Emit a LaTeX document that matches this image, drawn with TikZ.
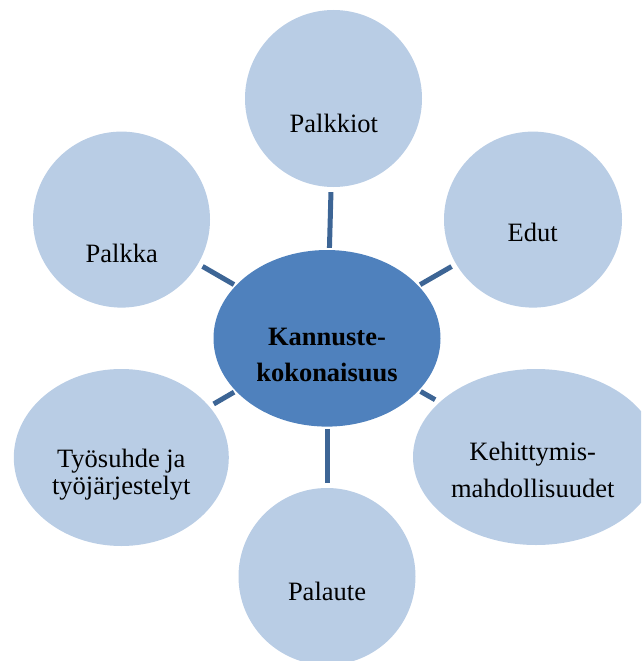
\documentclass[tikz,border=0pt]{standalone}
\usepackage{fontspec}
\setmainfont{Liberation Serif}
\usetikzlibrary{shapes.geometric}

\definecolor{outerfill}{HTML}{B9CDE5}
\definecolor{hubfill}{HTML}{4F81BD}
\definecolor{spoke}{HTML}{3D6595}

\tikzset{
  bubble/.style={ellipse, fill=outerfill, draw=none, inner sep=0pt},
  hub/.style={ellipse, fill=hubfill, draw=none, inner sep=0pt},
  caption/.style={anchor=base, inner sep=0pt, font=\fontsize{26.5}{30}\selectfont},
  spokeline/.style={draw=spoke, line width=5pt, shorten <=2pt, shorten >=5pt},
}

\newcommand{\twoline}[3]{\begin{tabular}[t]{@{}c@{}}#1\\[#3]#2\end{tabular}}

\begin{document}
\begin{tikzpicture}[x=1pt,y=-1pt]
  \clip (0,0) rectangle (641,661);

  % centre of the diagram
  \node[hub, minimum width=227pt, minimum height=176.6pt] (hub) at (327,338.3) {};

  % surrounding topics
  \node[bubble, minimum width=177pt, minimum height=177pt] (palkkiot) at (333.5,98.5) {};
  \node[bubble, minimum width=178pt, minimum height=176pt] (edut) at (533,219.6) {};
  \node[bubble, minimum width=177pt, minimum height=176pt] (palkka) at (121.5,219.6) {};
  \node[bubble, minimum width=215pt, minimum height=177pt] (tyosuhde) at (121.3,457.5) {};
  \node[bubble, minimum width=246pt, minimum height=176pt] (kehitys) at (536,457) {};
  \node[bubble, minimum width=177pt, minimum height=177pt] (palaute) at (327,576.5) {};

  % spokes from the centre
  \draw[spokeline] (hub) -- (palkkiot);
  \draw[spokeline] (hub) -- (edut);
  \draw[spokeline] (hub) -- (palkka);
  \draw[spokeline] (hub) -- (tyosuhde);
  \draw[spokeline] (hub) -- (kehitys);
  \draw[spokeline] (hub) -- (palaute);

  % labels
  \node[caption, font=\fontsize{26.5}{30}\selectfont\bfseries] (hubtext) at (327,345)
    {\twoline{Kannuste-}{kokonaisuus}{6.7pt}};
  \node[caption] (palkkiottext) at (333.8,132.3) {Palkkiot};
  \node[caption] (eduttext) at (532.7,241) {Edut};
  \node[caption] (palkkatext) at (121.7,262.5) {Palkka};
  \node[caption] (tyosuhdetext) at (121.3,467) {\twoline{Työsuhde ja}{työjärjestelyt}{-2.5pt}};
  \node[caption] (kehitystext) at (532.7,460) {\twoline{Kehittymis-}{mahdollisuudet}{7.7pt}};
  \node[caption] (palautetext) at (327,600) {Palaute};
\end{tikzpicture}
\end{document}
